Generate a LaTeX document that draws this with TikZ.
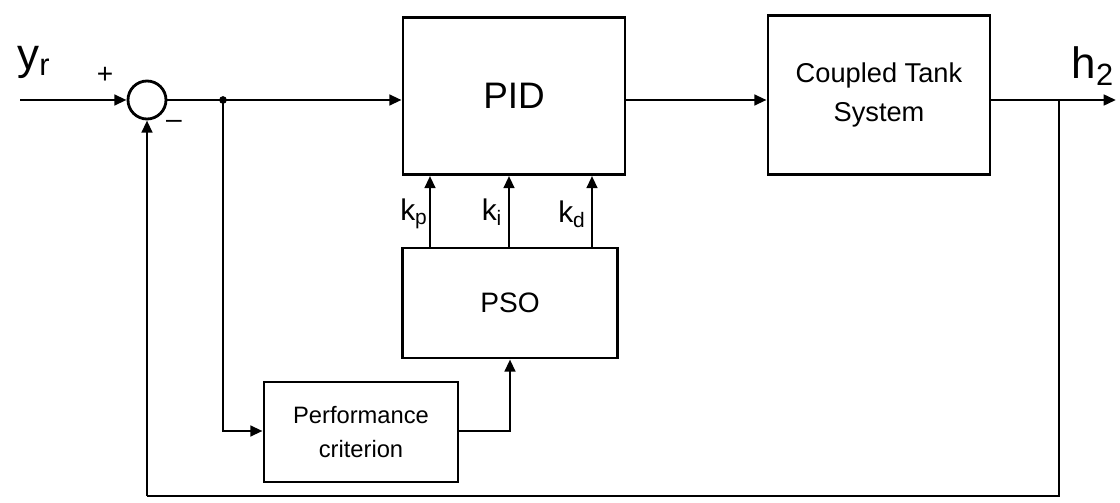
\documentclass[tikz,border=0pt]{standalone}
\usepackage{fontspec}
\setmainfont{Liberation Sans}
\usetikzlibrary{arrows.meta}
\begin{document}
\begin{tikzpicture}[x=0.02cm,y=-0.02cm,
  blk/.style={draw,line width=1.6pt,inner sep=0pt},
  con/.style={line width=1.6pt},
  arr/.style={con,-{Triangle[length=7pt,width=6pt]}},
  lbl/.style={inner sep=0pt}]
\useasboundingbox (0,0) rectangle (1120,503);
\node[blk,minimum width=4.44cm,minimum height=3.14cm,font=\fontsize{21}{24}\selectfont] (pid) at (514,96) {PID};
\node[blk,minimum width=4.44cm,minimum height=3.18cm,align=center,font=\fontsize{15.5}{22}\selectfont] (cts) at (879,95) {Coupled Tank\\System};
\node[blk,minimum width=4.3cm,minimum height=2.2cm,font=\fontsize{16}{20}\selectfont] (pso) at (510,303) {PSO};
\node[blk,minimum width=3.88cm,minimum height=2.0cm,align=center,font=\fontsize{13.5}{19}\selectfont] (pc) at (361,432) {Performance\\criterion};
\node[draw,circle,line width=1.6pt,minimum size=0.76cm,inner sep=0pt] (sum) at (147,100) {};
\coordinate (in) at (20,100);
\coordinate (br) at (223,100);
\coordinate (out) at (1116,100);
\coordinate (fb) at (1059,100);
\coordinate (fbr) at (1059,496);
\coordinate (fbl) at (147,496);
\coordinate (pcin) at (223,431);
\coordinate (pcr) at (510,431);
\draw[arr] (in) -- (sum.west);
\draw[arr] (sum.east) -- (pid.west |- sum.east);
\fill (br) circle (2.2pt);
\draw[arr] (pid.east |- sum.east) -- (cts.west |- sum.east);
\draw[arr] (cts.east |- sum.east) -- (out);
\draw[con] (fb) -- (fbr) -- (fbl);
\draw[arr] (fbl) -- (sum.south);
\draw[arr] (br) -- (pcin) -- (pc.west |- pcin);
\draw[arr] (pc.east |- pcr) -- (pcr) -- (pcr |- pso.south);
\foreach \x/\n in {430/p,509/i,592/d}{
  \draw[arr] (\x,0 |- pso.north) -- (\x,0 |- pid.south);
}
\node[lbl] (kp) at (414,214) {\fontsize{17}{20}\selectfont k\textsubscript{p}};
\node[lbl] (ki) at (492,212) {\fontsize{17}{20}\selectfont k\textsubscript{i}};
\node[lbl] (kd) at (572,214) {\fontsize{17}{20}\selectfont k\textsubscript{d}};
\node[lbl] (yr) at (34,62) {\fontsize{25}{26}\selectfont y\textsubscript{r}};
\node[lbl] (h2) at (1093,66) {\fontsize{25}{26}\selectfont h\textsubscript{2}};
\node[lbl] (plus) at (105,75) {\fontsize{16}{16}\selectfont +};
\node[lbl] (minus) at (174,124) {\fontsize{16}{16}\selectfont \textendash};
\end{tikzpicture}
\end{document}
